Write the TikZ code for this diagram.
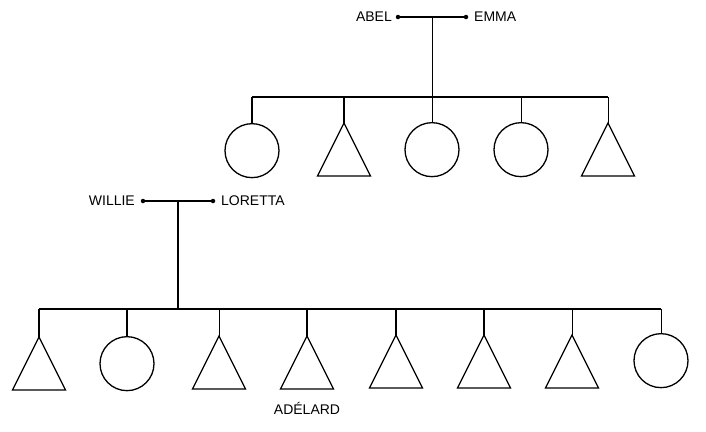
\documentclass[tikz,border=0pt]{standalone}
\usepackage{fontspec}
\setmainfont{Liberation Sans}
\begin{document}
\begin{tikzpicture}[x=1pt,y=-1pt,
  bar/.style={line width=2pt},
  thickstem/.style={line width=2pt},
  thinstem/.style={line width=1pt},
  fem/.style={circle,draw,line width=1.3pt,minimum size=54pt,inner sep=0pt,anchor=north},
  mal/.style={line width=1.3pt,line join=miter},
  pdot/.style={circle,fill,inner sep=0pt,minimum size=4.5pt},
  lbl/.style={font=\fontsize{14}{16}\selectfont,inner sep=0pt}]
\useasboundingbox (0,0) rectangle (706,431);
% ---------- top family ----------
\node[pdot] (abel) at (398,17) {};
\node[pdot] (emma) at (466,17) {};
\node[lbl,anchor=east] (abelL) at (392,17) {ABEL};
\node[lbl,anchor=west] (emmaL) at (474,17) {EMMA};
\draw[bar] (abel) -- (emma);
\coordinate (j1) at (432,17);
\coordinate (b1) at (432,97);
\draw[thinstem] (j1) -- (b1);
\coordinate (b1l) at (252,97);
\coordinate (b1r) at (608,97);
\draw[bar] (b1l) -- (b1r);
\node[fem] (a1) at (252,123) {};
\coordinate (a2) at (344,123);
\node[fem] (a3) at (432,122) {};
\node[fem] (a4) at (521,122) {};
\coordinate (a5) at (608,123);
\draw[thickstem] (b1l) -- (a1.north);
\draw[thickstem] (344,97) -- (a2);
\draw[thinstem] (b1) -- (a3.north);
\draw[thinstem] (521,97) -- (a4.north);
\draw[thinstem] (b1r) -- (a5);
\draw[mal] (a2) -- ++(-26.5,53) -- ++(53,0) -- cycle;
\draw[mal] (a5) -- ++(-26.5,53) -- ++(53,0) -- cycle;
% ---------- bottom family ----------
\node[pdot] (willie) at (143,201) {};
\node[pdot] (loretta) at (213,201) {};
\node[lbl,anchor=east] (willieL) at (135,201) {WILLIE};
\node[lbl,anchor=west] (lorettaL) at (221,201) {LORETTA};
\draw[bar] (willie) -- (loretta);
\coordinate (j2) at (178,201);
\coordinate (b2) at (178,309);
\draw[thickstem] (j2) -- (b2);
\coordinate (b2l) at (39,309);
\coordinate (b2r) at (661,309);
\draw[bar] (b2l) -- (b2r);
\coordinate (k1) at (39,337);
\node[fem] (k2) at (127,336) {};
\coordinate (k3) at (219,336);
\coordinate (k4) at (307,336);
\coordinate (k5) at (396,335);
\coordinate (k6) at (484,335);
\coordinate (k7) at (572,335);
\node[fem] (k8) at (661,333) {};
\draw[thickstem] (b2l) -- (k1);
\draw[thickstem] (127,309) -- (k2.north);
\draw[thinstem] (219,309) -- (k3);
\draw[thickstem] (307,309) -- (k4);
\draw[thickstem] (396,309) -- (k5);
\draw[thickstem] (484,309) -- (k6);
\draw[thinstem] (572,309) -- (k7);
\draw[thinstem] (b2r) -- (k8.north);
\foreach \k in {k1,k3,k4,k5,k6,k7}
  \draw[mal] (\k) -- ++(-26.5,53) -- ++(53,0) -- cycle;
\node[lbl] (adelard) at (307,408) {ADÉLARD};
\end{tikzpicture}
\end{document}
